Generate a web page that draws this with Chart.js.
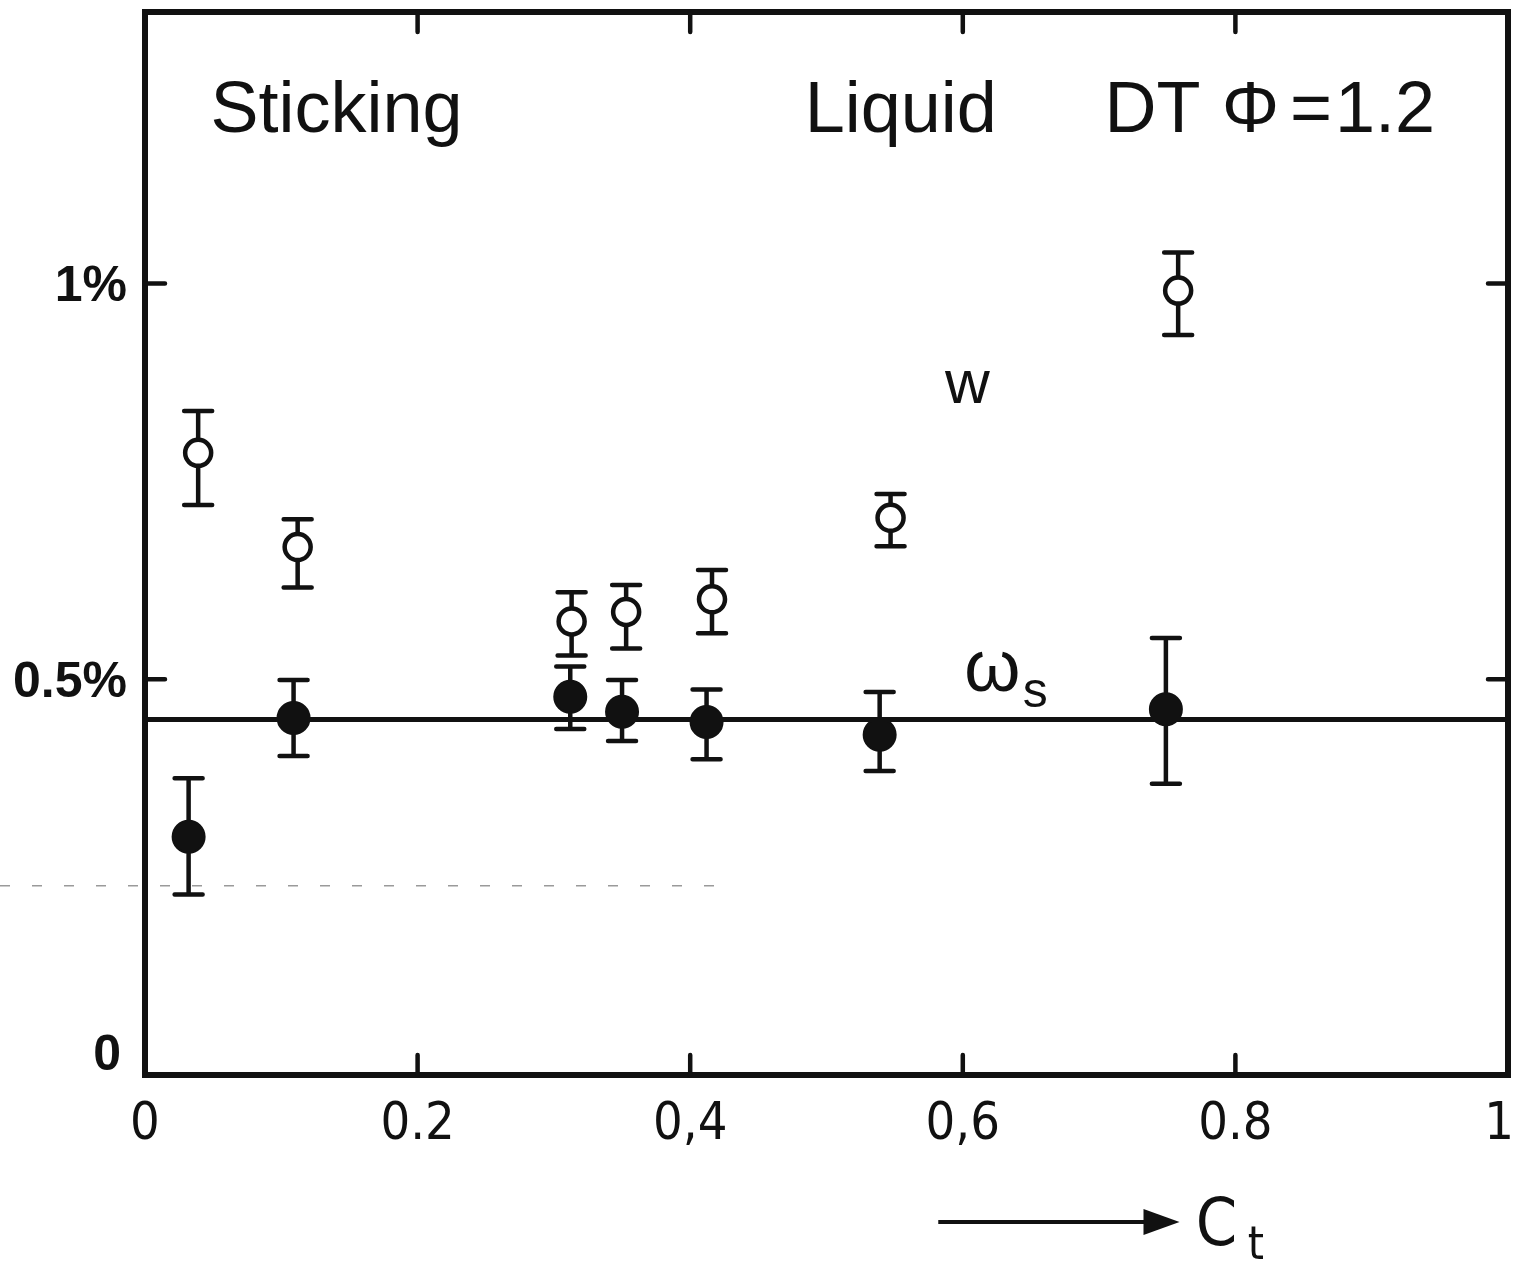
<!DOCTYPE html>
<html>
<head>
<meta charset="utf-8">
<script src="https://cdn.jsdelivr.net/npm/chart.js@4/dist/chart.umd.min.js"></script>
<style>
  html, body { margin: 0; padding: 0; background: #fff; }
  #wrap { width: 1513px; height: 1263px; }
</style>
</head>
<body>
<div id="wrap"><canvas id="chart" width="1513" height="1263"></canvas></div>
<script>
// ===== DATA =====
// W (open circles) : C_t, value in %, error bar low/high
const wX    = [0.039, 0.112, 0.313, 0.353, 0.416, 0.547, 0.758];
const wY    = [0.786, 0.667, 0.573, 0.585, 0.601, 0.704, 0.991];
const wLow  = [0.720, 0.616, 0.530, 0.539, 0.558, 0.668, 0.935];
const wHigh = [0.839, 0.702, 0.610, 0.619, 0.638, 0.734, 1.039];

// omega_s (filled circles)
const wsX    = [0.032, 0.109, 0.312, 0.350, 0.412, 0.539, 0.749];
const wsY    = [0.301, 0.451, 0.478, 0.459, 0.446, 0.430, 0.462];
const wsLow  = [0.228, 0.403, 0.437, 0.422, 0.399, 0.384, 0.368];
const wsHigh = [0.375, 0.499, 0.516, 0.499, 0.487, 0.484, 0.552];

// mean level of omega_s
const wsLevelX = [0, 1];
const wsLevelY = [0.449, 0.449];

// faint dashed line (left part of the figure)
const dashY = 0.239;
const dashEndX = 0.433;

// axes
const xTicks = [0, 0.2, 0.4, 0.6, 0.8, 1];
const xTickLabels = ['0', '0.2', '0,4', '0,6', '0.8', '1'];
const yTicks = [0, 0.5, 1];
const yTickLabels = ['0', '0.5%', '1%'];
const yMax = 1.343;

const INK = '#111';
const FONT = '"Liberation Sans", Arial, sans-serif';
const NARROW = '"DejaVu Sans Condensed", "Liberation Sans Narrow", sans-serif';

function toPoints(xs, ys) {
    return xs.map((x, i) => ({ x: x, y: ys[i] }));
}

// ===== PLUGIN: frame, inner ticks, error bars, labels =====
const framePlugin = {
    id: 'frame',
    beforeDatasetsDraw(chart) {
        const ctx = chart.ctx;
        const a = chart.chartArea;
        const xs = chart.scales.x, ys = chart.scales.y;
        ctx.save();

        // dashed grey line
        ctx.strokeStyle = '#9a9a9a';
        ctx.lineWidth = 1.5;
        ctx.setLineDash([10, 22]);
        ctx.beginPath();
        ctx.moveTo(0, ys.getPixelForValue(dashY));
        ctx.lineTo(xs.getPixelForValue(dashEndX), ys.getPixelForValue(dashY));
        ctx.stroke();
        ctx.setLineDash([]);

        // frame
        ctx.strokeStyle = INK;
        ctx.lineWidth = 6;
        ctx.lineCap = 'round';
        ctx.strokeRect(a.left, a.top, a.right - a.left, a.bottom - a.top);

        // inner ticks
        ctx.lineWidth = 4.5;
        xTicks.slice(1, -1).forEach(v => {
            const px = xs.getPixelForValue(v);
            ctx.beginPath();
            ctx.moveTo(px, a.bottom); ctx.lineTo(px, a.bottom - 20);
            ctx.moveTo(px, a.top); ctx.lineTo(px, a.top + 20);
            ctx.stroke();
        });
        yTicks.slice(1).forEach(v => {
            const py = ys.getPixelForValue(v);
            ctx.beginPath();
            ctx.moveTo(a.left, py); ctx.lineTo(a.left + 20, py);
            ctx.moveTo(a.right, py); ctx.lineTo(a.right - 20, py);
            ctx.stroke();
        });

        // error bars
        function bars(xArr, lo, hi) {
            xArr.forEach((x, i) => {
                const px = xs.getPixelForValue(x);
                const p1 = ys.getPixelForValue(lo[i]);
                const p2 = ys.getPixelForValue(hi[i]);
                ctx.beginPath();
                ctx.moveTo(px, p1); ctx.lineTo(px, p2);
                ctx.moveTo(px - 14, p1); ctx.lineTo(px + 14, p1);
                ctx.moveTo(px - 14, p2); ctx.lineTo(px + 14, p2);
                ctx.stroke();
            });
        }
        ctx.lineWidth = 4.5;
        bars(wX, wLow, wHigh);
        bars(wsX, wsLow, wsHigh);
        ctx.restore();
    },
    afterDraw(chart) {
        const ctx = chart.ctx;
        const a = chart.chartArea;
        const xs = chart.scales.x, ys = chart.scales.y;
        const X = v => xs.getPixelForValue(v);
        const Y = v => ys.getPixelForValue(v);
        ctx.save();
        ctx.fillStyle = INK;

        // tick labels
        ctx.font = '52px ' + NARROW;
        ctx.textBaseline = 'top';
        xTicks.forEach((v, i) => {
            const last = i === xTicks.length - 1;
            ctx.textAlign = last ? 'right' : 'center';
            ctx.fillText(xTickLabels[i], X(v) + (last ? 6 : 0), a.bottom + 24);
        });
        ctx.font = 'bold 50px ' + FONT;
        ctx.textAlign = 'right';
        yTicks.forEach((v, i) => {
            ctx.textBaseline = i === 0 ? 'bottom' : 'middle';
            ctx.fillText(yTickLabels[i], a.left - (i === 0 ? 24 : 18), Y(v) + (i === 0 ? 6 : 4));
        });

        ctx.textBaseline = 'alphabetic';
        ctx.textAlign = 'left';

        ctx.font = '72px ' + FONT;
        ctx.fillText('Sticking', X(0.048), Y(1.191));
        ctx.fillText('Liquid', X(0.484), Y(1.191));
        ctx.fillText('DT', X(0.704), Y(1.191));
        ctx.fillText('Φ', X(0.790), Y(1.191));
        ctx.fillText('=', X(0.840), Y(1.191));
        ctx.fillText('1.2', X(0.873), Y(1.191));

        ctx.font = '62px ' + FONT;
        ctx.fillText('w', X(0.587), Y(0.849));

        ctx.font = '72px ' + FONT;
        ctx.fillText('ω', X(0.601), Y(0.485));
        ctx.font = '50px ' + FONT;
        ctx.fillText('s', X(0.644), Y(0.465));

        // x axis title: arrow + C_t
        const ay = a.bottom + 147;
        const ax1 = X(0.582), ax2 = X(0.759);
        ctx.strokeStyle = INK;
        ctx.lineWidth = 4;
        ctx.beginPath();
        ctx.moveTo(ax1, ay); ctx.lineTo(ax2 - 30, ay);
        ctx.stroke();
        ctx.beginPath();
        ctx.moveTo(ax2, ay);
        ctx.lineTo(ax2 - 36, ay - 13);
        ctx.lineTo(ax2 - 36, ay + 13);
        ctx.closePath();
        ctx.fill();
        ctx.font = '66px ' + NARROW;
        ctx.fillText('C', X(0.771), a.bottom + 170);
        ctx.font = '46px ' + NARROW;
        ctx.fillText('t', X(0.809), a.bottom + 184);
        ctx.restore();
    }
};

// ===== CHART =====
const ctx = document.getElementById('chart').getContext('2d');
new Chart(ctx, {
    type: 'scatter',
    data: {
        datasets: [
            {
                type: 'line',
                label: 'ws level',
                data: toPoints(wsLevelX, wsLevelY),
                borderColor: INK,
                borderWidth: 5,
                pointRadius: 0,
                fill: false
            },
            {
                label: 'W',
                data: toPoints(wX, wY),
                pointStyle: 'circle',
                pointRadius: 13,
                pointBorderWidth: 4.5,
                pointBackgroundColor: '#fff',
                pointBorderColor: INK
            },
            {
                label: 'ws',
                data: toPoints(wsX, wsY),
                pointStyle: 'circle',
                pointRadius: 16,
                pointBorderWidth: 2,
                pointBackgroundColor: INK,
                pointBorderColor: INK
            }
        ]
    },
    options: {
        responsive: false,
        animation: false,
        devicePixelRatio: 1,
        layout: { autoPadding: false, padding: { top: 12, right: 5, left: 0, bottom: 0 } },
        plugins: { legend: { display: false }, tooltip: { enabled: false } },
        scales: {
            x: {
                type: 'linear',
                min: 0,
                max: 1,
                grid: { display: false, drawTicks: false },
                border: { display: false },
                afterBuildTicks: s => { s.ticks = xTicks.map(v => ({ value: v })); },
                afterFit: s => {
                    s.height = 1263 - 1075;
                    s.paddingLeft = 0; s.paddingRight = 0;
                },
                ticks: { display: false }
            },
            y: {
                type: 'linear',
                min: 0,
                max: yMax,
                grid: { display: false, drawTicks: false },
                border: { display: false },
                afterBuildTicks: s => { s.ticks = yTicks.map(v => ({ value: v })); },
                afterFit: s => {
                    s.width = 145;
                    s.paddingTop = 0; s.paddingBottom = 0;
                },
                ticks: { display: false }
            }
        }
    },
    plugins: [framePlugin]
});
</script>
</body>
</html>
